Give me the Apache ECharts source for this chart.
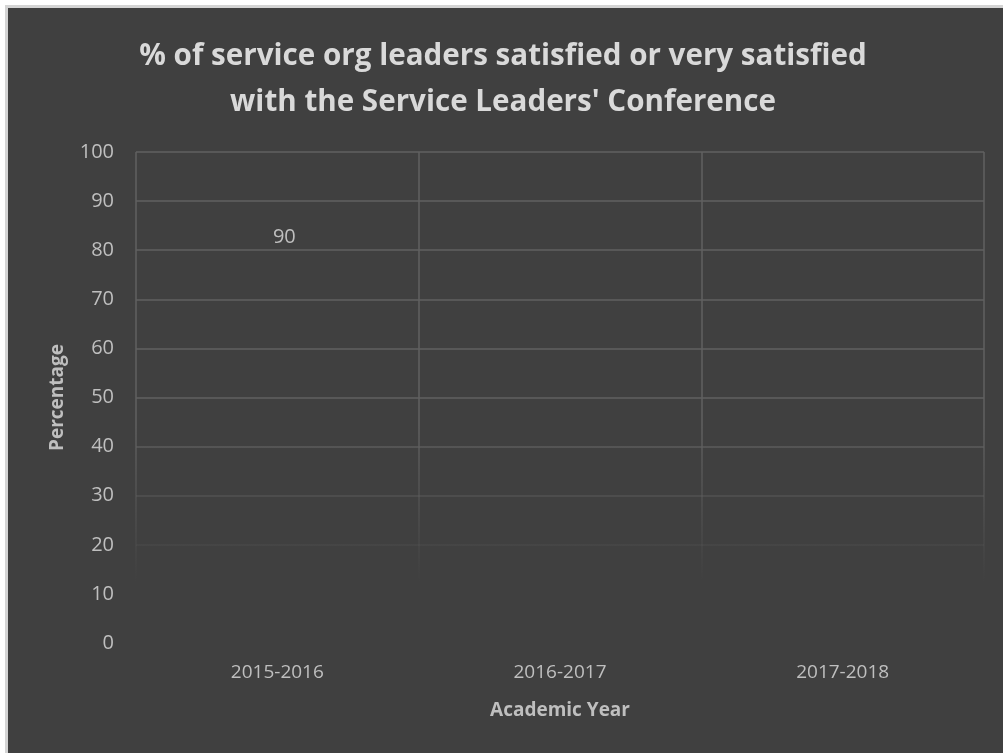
<!DOCTYPE html>
<html><head><meta charset="utf-8">
<script src="https://cdn.jsdelivr.net/npm/echarts@6/dist/echarts.min.js"></script>
<style>
html,body{margin:0;padding:0;background:#ffffff;width:1003px;height:753px;overflow:hidden;}
#frame{position:absolute;left:5px;top:5px;width:998px;height:748px;background:#d4d4d4;}
#chart{position:absolute;left:8px;top:8px;width:995px;height:745px;}
</style></head>
<body>
<div id="frame"></div>
<div id="chart"></div>
<script>
const categories = ['2015-2016', '2016-2017', '2017-2018'];
const values = [90, null, null];
const yTicks = { min: 0, max: 100, interval: 10 };
const titleText = "% of service org leaders satisfied or very satisfied\nwith the Service Leaders' Conference";
const xName = 'Academic Year';
const yName = 'Percentage';

const fontFam = '"Open Sans", "Noto Sans", sans-serif';
const fade = {
  type: 'linear', x: 0, y: 0, x2: 0, y2: 745, global: true,
  colorStops: [
    { offset: 0, color: 'rgba(96,96,96,1)' },
    { offset: 0.56, color: 'rgba(96,96,96,1)' },
    { offset: 0.77, color: 'rgba(96,96,96,0)' },
    { offset: 1, color: 'rgba(96,96,96,0)' }
  ]
};
const chart = echarts.init(document.getElementById('chart'));
chart.setOption({
  backgroundColor: '#404040',
  animation: false,
  title: {
    text: titleText, left: 490, top: 21,
    textAlign: 'center',
    textStyle: { color: '#d9d9d9', fontSize: 29.6, fontWeight: 'bold', fontFamily: fontFam, lineHeight: 46 }
  },
  grid: { left: 128, right: 19, top: 144, bottom: 110, containLabel: false },
  xAxis: {
    type: 'category', data: categories, boundaryGap: true,
    name: xName, nameLocation: 'middle', nameGap: 58,
    nameTextStyle: { color: '#bfbfbf', fontSize: 19, fontWeight: 'bold', fontFamily: fontFam },
    axisLine: { show: false }, axisTick: { show: false },
    axisLabel: { color: '#bfbfbf', fontSize: 19, fontFamily: fontFam, margin: 20 },
    splitLine: { show: true, lineStyle: { color: fade, width: 1.5 } }
  },
  yAxis: {
    type: 'value', min: yTicks.min, max: yTicks.max, interval: yTicks.interval,
    name: yName, nameLocation: 'middle', nameGap: 69,
    nameTextStyle: { color: '#bfbfbf', fontSize: 19, fontWeight: 'bold', fontFamily: fontFam },
    axisLine: { show: false }, axisTick: { show: false },
    axisLabel: { color: '#bfbfbf', fontSize: 20, fontFamily: fontFam, margin: 22 },
    splitLine: { show: true, lineStyle: { color: fade, width: 1.5 } }
  },
  series: [{
    type: 'bar', data: values, barWidth: '60%',
    itemStyle: { color: 'rgba(64,64,64,0)' },
    label: { show: true, position: 'insideTop', distance: 26, offset: [7, 0], color: '#bfbfbf', fontSize: 20, fontFamily: fontFam }
  }]
});
</script>
</body></html>
